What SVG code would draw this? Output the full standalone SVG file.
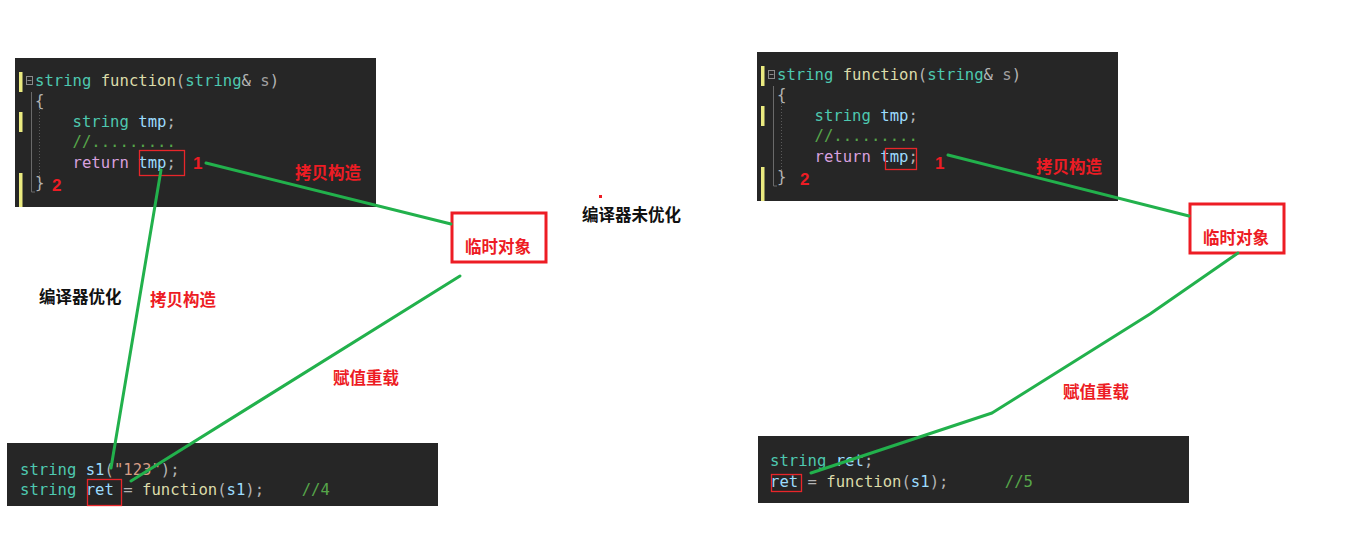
<svg xmlns="http://www.w3.org/2000/svg" width="1353" height="534" viewBox="0 0 1353 534">
<style>
.bg{fill:#262626}
.code{font-family:"DejaVu Sans Mono","Liberation Mono",monospace;font-size:15.6px;white-space:pre}
.ty{fill:#4ec9b0}.fn{fill:#dcdcaa}.pu{fill:#b4b4b4}.pa{fill:#a0a0a0}.va{fill:#9cdcfe}.kw{fill:#d8a0df}.cm{fill:#57a64a}.st{fill:#d69d85}
.bar{fill:#eaea80}
.guide{stroke:#6a6a6a;stroke-width:1;fill:none}
.hl{fill:none;stroke:#e8262a;stroke-width:1.3}
.obj{fill:#fff;stroke:#ed1c24;stroke-width:3}
.lbl{font-family:"Noto Sans CJK SC","Noto Sans",sans-serif;font-size:16.5px;font-weight:bold}
.red{fill:#ed1c24}.blk{fill:#111}
.num{font-family:"Liberation Sans",Arial,sans-serif;font-size:17px;font-weight:bold;fill:#ed1c24}
.con{fill:none;stroke:#22b14c;stroke-width:3;stroke-linejoin:round;stroke-linecap:round}
</style>

<g id="code-left-top">
<rect class="bg" x="15" y="58" width="361" height="149"/>
<rect class="bar" x="19" y="72" width="3.5" height="20"/>
<rect class="bar" x="19" y="112" width="3.5" height="20"/>
<rect class="bar" x="19" y="173" width="3.5" height="34"/>
<rect x="26.5" y="76.5" width="6" height="8" fill="none" stroke="#8a8a8a" stroke-width="1"/>
<line x1="27.5" y1="80.5" x2="31.5" y2="80.5" stroke="#8a8a8a" stroke-width="1"/>
<path class="guide" d="M31.5 92V192H35"/>
<line x1="39.5" y1="106" x2="39.5" y2="180" stroke="#5a5a5a" stroke-dasharray="1 2"/>
<text class="code" x="35" y="86"><tspan class="ty">string</tspan> <tspan class="fn">function</tspan><tspan class="pu">(</tspan><tspan class="ty">string</tspan><tspan class="pu">&amp;</tspan> <tspan class="pa">s</tspan><tspan class="pu">)</tspan></text>
<text class="code pu" x="35" y="106.4">{</text>
<text class="code" x="35" y="126.8">    <tspan class="ty">string</tspan> <tspan class="va">tmp</tspan><tspan class="pu">;</tspan></text>
<text class="code cm" x="35" y="147.2">    //.........</text>
<text class="code" x="35" y="167.6">    <tspan class="kw">return</tspan> <tspan class="va">tmp</tspan><tspan class="pu">;</tspan></text>
<text class="code pu" x="35" y="188">}</text>
<rect class="hl" x="139.5" y="150.5" width="45" height="25"/>
<text class="num" x="193" y="169">1</text>
<text class="num" x="52" y="191">2</text>
</g>

<g id="code-right-top">
<rect class="bg" x="757" y="52" width="361" height="149"/>
<rect class="bar" x="761" y="66" width="3.5" height="20"/>
<rect class="bar" x="761" y="106" width="3.5" height="20"/>
<rect class="bar" x="761" y="167" width="3.5" height="34"/>
<rect x="768.5" y="70.5" width="6" height="8" fill="none" stroke="#8a8a8a" stroke-width="1"/>
<line x1="769.5" y1="74.5" x2="773.5" y2="74.5" stroke="#8a8a8a" stroke-width="1"/>
<path class="guide" d="M773.5 86V186H777"/>
<line x1="781.5" y1="100" x2="781.5" y2="174" stroke="#5a5a5a" stroke-dasharray="1 2"/>
<text class="code" x="777" y="80"><tspan class="ty">string</tspan> <tspan class="fn">function</tspan><tspan class="pu">(</tspan><tspan class="ty">string</tspan><tspan class="pu">&amp;</tspan> <tspan class="pa">s</tspan><tspan class="pu">)</tspan></text>
<text class="code pu" x="777" y="100.4">{</text>
<text class="code" x="777" y="120.8">    <tspan class="ty">string</tspan> <tspan class="va">tmp</tspan><tspan class="pu">;</tspan></text>
<text class="code cm" x="777" y="141.2">    //.........</text>
<text class="code" x="777" y="161.6">    <tspan class="kw">return</tspan> <tspan class="va">tmp</tspan><tspan class="pu">;</tspan></text>
<text class="code pu" x="777" y="182">}</text>
<rect class="hl" x="885.5" y="148.5" width="31" height="21"/>
<text class="num" x="935" y="169">1</text>
<text class="num" x="800" y="185">2</text>
</g>

<g id="code-left-bottom">
<rect class="bg" x="7" y="443" width="431" height="63"/>
<text class="code" x="20" y="475"><tspan class="ty">string</tspan> <tspan class="va">s1</tspan><tspan class="pu">(</tspan><tspan class="st">"123"</tspan><tspan class="pu">);</tspan></text>
<text class="code" x="20" y="495"><tspan class="ty">string</tspan> <tspan class="va">ret</tspan> <tspan class="pu">=</tspan> <tspan class="fn">function</tspan><tspan class="pu">(</tspan><tspan class="va">s1</tspan><tspan class="pu">);</tspan>    <tspan class="cm">//4</tspan></text>
<rect class="hl" x="87.5" y="479.5" width="34" height="26"/>
</g>

<g id="code-right-bottom">
<rect class="bg" x="758" y="436" width="431" height="67"/>
<text class="code" x="770" y="466"><tspan class="ty">string</tspan> <tspan class="va">ret</tspan><tspan class="pu">;</tspan></text>
<text class="code" x="770" y="487"><tspan class="va">ret</tspan> <tspan class="pu">=</tspan> <tspan class="fn">function</tspan><tspan class="pu">(</tspan><tspan class="va">s1</tspan><tspan class="pu">);</tspan>      <tspan class="cm">//5</tspan></text>
<rect class="hl" x="771.5" y="474.5" width="30" height="17"/>
</g>

<g id="temp-left">
<rect class="obj" x="452" y="213" width="94" height="49"/>
<text class="lbl red" x="465" y="253">临时对象</text>
</g>

<g id="temp-right">
<rect class="obj" x="1190" y="204" width="94" height="49"/>
<text class="lbl red" x="1203" y="244">临时对象</text>
</g>

<g id="connectors">
<line class="con" x1="206" y1="163" x2="451" y2="224"/>
<line class="con" x1="161" y1="170" x2="111" y2="468"/>
<line class="con" x1="460" y1="276" x2="131" y2="481"/>
<line class="con" x1="948" y1="155" x2="1189" y2="216"/>
<polyline class="con" points="1238,253 1150,314 992,413 811,473"/>
</g>

<g id="labels">
<rect x="599" y="195" width="3" height="3" fill="#ed1c24"/>
<text class="lbl red" x="295" y="179">拷贝构造</text>
<text class="lbl red" x="1036" y="173">拷贝构造</text>
<text class="lbl blk" x="582" y="221">编译器未优化</text>
<text class="lbl blk" x="39" y="303">编译器优化</text>
<text class="lbl red" x="150" y="306">拷贝构造</text>
<text class="lbl red" x="333" y="384">赋值重载</text>
<text class="lbl red" x="1063" y="398">赋值重载</text>
</g>
</svg>
